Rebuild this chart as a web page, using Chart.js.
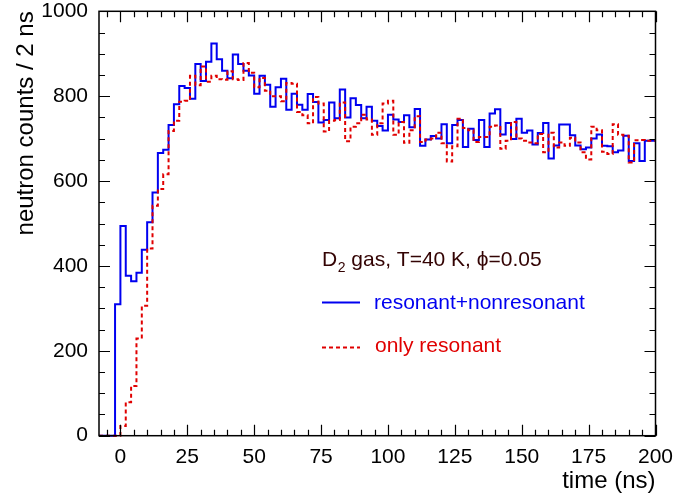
<!DOCTYPE html>
<html><head><meta charset="utf-8">
<script src="https://cdn.jsdelivr.net/npm/chart.js@4.4.0/dist/chart.umd.min.js"></script>
<style>html,body{margin:0;padding:0;background:#fff;overflow:hidden}#wrap{width:673px;height:498px}</style>
</head><body><div id="wrap"><canvas id="c" width="673" height="498"></canvas></div>
<script>
// bin lower edges (ns), 2 ns bins from -8 to 200
const binEdges = [-8,-6,-4,-2,0,2,4,6,8,10,12,14,16,18,20,22,24,26,28,30,32,34,36,38,40,42,44,46,48,50,52,54,56,58,60,62,64,66,68,70,72,74,76,78,80,82,84,86,88,90,92,94,96,98,100,102,104,106,108,110,112,114,116,118,120,122,124,126,128,130,132,134,136,138,140,142,144,146,148,150,152,154,156,158,160,162,164,166,168,170,172,174,176,178,180,182,184,186,188,190,192,194,196,198,200];
const countsResNonres = [0,0,0,0,
 310,494,377,364,384, 438,503,573,666,674, 732,781,824,819,794, 876,836,881,924,887,
 860,842,898,876,860, 849,806,848,827,775, 821,841,768,806,780, 768,805,786,738,744,
 785,748,816,750,795, 779,748,775,742,730, 719,756,745,739,755, 727,770,683,698,706,
 700,734,689,732,744, 680,723,697,744,680, 759,769,710,737,699, 747,714,719,686,713,
 737,653,684,733,733, 708,684,675,679,700, 710,683,682,668,672, 707,647,689,647,695];
const countsResonant = [0,0,0,0,
 0,23,79,117,229, 306,441,542,581,616, 718,742,787,789,848, 826,870,834,848,840,
 839,859,840,838,878, 855,821,843,813,800, 800,788,831,829,763, 755,736,798,783,717,
 742,744,785,694,728, 736,756,745,709,736, 783,789,709,739,690, 720,753,692,698,700,
 714,689,646,682,747, 725,720,692,704,704, 728,731,676,695,739, 700,695,691,689,711,
 668,714,679,691,683, 702,691,668,651,728, 720,669,664,734,709, 707,644,696,697,695];
const xTickValues = [0,25,50,75,100,125,150,175,200];
const yTickValues = [0,200,400,600,800,1000];
const xMinorStep = 5, yMinorStep = 50;
const xTitle = 'time (ns)';
const yTitle = 'neutron counts / 2 ns';
const headerMain = 'D', headerSub = '2', headerRest = ' gas, T=40 K, \u03d5=0.05';
const labelTotal = 'resonant+nonresonant';
const labelRes = 'only resonant';

const FONT = '"Liberation Sans", Arial, Helvetica, sans-serif';
const BLUE = '#0000f0', RED = '#e00000';

function toSteps(counts){
  const pts = counts.map((v,i)=>({x:binEdges[i], y:v}));
  pts.push({x:binEdges[counts.length], y:counts[counts.length-1]});
  return pts;
}

const framePlugin = {
  id:'frame',
  afterDatasetsDraw(chart){
    const {ctx, chartArea:a, scales:{x,y}} = chart;
    ctx.save();
    ctx.strokeStyle = '#000';
    ctx.lineWidth = 1.2;
    ctx.beginPath();
    const xMin = x.min, xMax = x.max;
    for (let v = Math.ceil(xMin/xMinorStep)*xMinorStep; v <= xMax; v += xMinorStep){
      const px = Math.round(x.getPixelForValue(v))+0.5;
      const len = (v % 25 === 0) ? 11 : 6;
      ctx.moveTo(px, a.bottom); ctx.lineTo(px, a.bottom-len);
      ctx.moveTo(px, a.top); ctx.lineTo(px, a.top+len);
    }
    for (let v = 0; v <= y.max; v += yMinorStep){
      const py = Math.round(y.getPixelForValue(v))+0.5;
      const len = (v % 200 === 0) ? 11 : 6;
      ctx.moveTo(a.left, py); ctx.lineTo(a.left+len, py);
      ctx.moveTo(a.right, py); ctx.lineTo(a.right-len, py);
    }
    ctx.stroke();
    ctx.lineWidth = 1.5;
    ctx.strokeRect(a.left, a.top, a.right-a.left, a.bottom-a.top);

    // legend / annotation
    ctx.textBaseline = 'alphabetic';
    ctx.textAlign = 'left';
    ctx.font = '21px ' + FONT;
    ctx.fillStyle = '#330303';
    let tx = 322;
    ctx.fillText(headerMain, tx, 266);
    tx += ctx.measureText(headerMain).width;
    ctx.font = '14px ' + FONT;
    ctx.fillText(headerSub, tx+0.5, 272);
    tx += ctx.measureText(headerSub).width + 0.5;
    ctx.font = '21px ' + FONT;
    ctx.fillText(headerRest, tx, 266);

    ctx.lineWidth = 2;
    ctx.strokeStyle = BLUE;
    ctx.beginPath(); ctx.moveTo(322, 302.5); ctx.lineTo(360, 302.5); ctx.stroke();
    ctx.fillStyle = BLUE;
    ctx.fillText(labelTotal, 374, 308.5);

    ctx.strokeStyle = RED;
    ctx.setLineDash([4,3]);
    ctx.beginPath(); ctx.moveTo(322, 347.5); ctx.lineTo(360, 347.5); ctx.stroke();
    ctx.setLineDash([]);
    ctx.fillStyle = RED;
    ctx.fillText(labelRes, 375, 351.5);
    ctx.restore();
  }
};

new Chart(document.getElementById('c'), {
  type:'line',
  data:{ datasets:[
    { label:labelRes, data:toSteps(countsResonant), stepped:'after', borderColor:RED, borderWidth:2,
      borderDash:[4,3], pointRadius:0, fill:false, clip:3 },
    { label:labelTotal, data:toSteps(countsResNonres), stepped:'after', borderColor:BLUE, borderWidth:2,
      pointRadius:0, fill:false, clip:3 }
  ]},
  options:{
    responsive:false, animation:false, events:[],
    layout:{ padding:{ top:11.3, right:17.5, left:0, bottom:0 } },
    plugins:{ legend:{display:false}, tooltip:{enabled:false} },
    scales:{
      x:{ type:'linear', min:-8, max:200,
        afterBuildTicks:(s)=>{ s.ticks = xTickValues.map(v=>({value:v})); },
        afterFit:(s)=>{ s.height = 62.3; s.paddingLeft = 0; s.paddingRight = 0; },
        grid:{display:false, drawTicks:false}, border:{display:false},
        ticks:{ color:'#000', font:{family:FONT, size:21}, padding:9, maxRotation:0, autoSkip:false,
          callback:(v)=>String(v) },
        title:{ display:true, text:xTitle, align:'end', color:'#000', font:{family:FONT, size:24}, padding:{top:0,bottom:2} }
      },
      y:{ type:'linear', min:0, max:1000,
        afterBuildTicks:(s)=>{ s.ticks = yTickValues.map(v=>({value:v})); },
        afterFit:(s)=>{ s.width = 99; s.paddingTop = 0; s.paddingBottom = 0; },
        grid:{display:false, drawTicks:false}, border:{display:false},
        ticks:{ color:'#000', font:{family:FONT, size:21}, padding:11, autoSkip:false,
          callback:(v)=>String(v) },
        title:{ display:true, text:yTitle, align:'end', color:'#000', font:{family:FONT, size:24}, padding:{top:12,bottom:0} }
      }
    }
  },
  plugins:[framePlugin]
});
</script></body></html>
